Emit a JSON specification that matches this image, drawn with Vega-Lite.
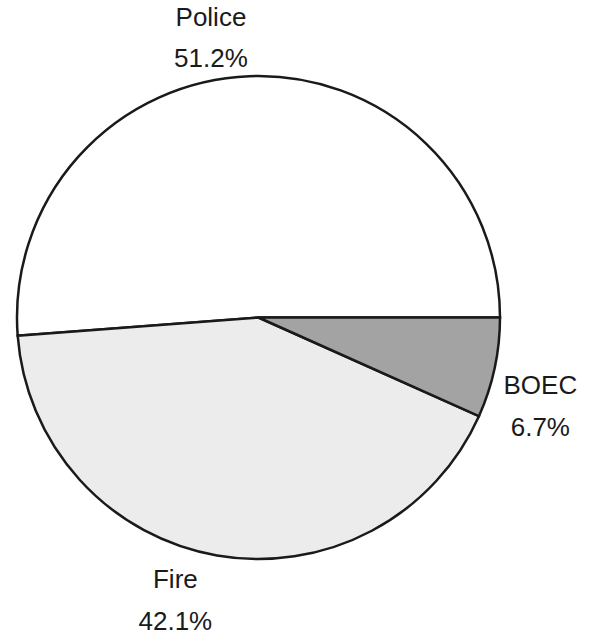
{
  "$schema": "https://vega.github.io/schema/vega-lite/v6.json",
  "width": 483,
  "height": 483,
  "autosize": {"type": "none"},
  "padding": {"left": 17, "top": 76, "right": 95, "bottom": 78},
  "background": "#ffffff",
  "view": {"stroke": null},
  "data": {
    "values": [
      {"sector": "Police", "share": 51.2},
      {"sector": "Fire", "share": 42.1},
      {"sector": "BOEC", "share": 6.7}
    ]
  },
  "transform": [
    {"calculate": "datum.sector + '\\n' + format(datum.share, '.1f') + '%'", "as": "label"}
  ],
  "encoding": {
    "theta": {"field": "share", "type": "quantitative", "stack": true, "scale": {"range": [1.5708, 7.854]}},
    "order": {"field": "sector", "sort": "ascending"}
  },
  "layer": [
    {
      "mark": {"type": "arc", "stroke": "#1a1a1a", "strokeWidth": 2.5},
      "encoding": {
        "color": {
          "field": "sector",
          "type": "nominal",
          "scale": {"domain": ["BOEC", "Fire", "Police"], "range": ["#a3a3a3", "#ececec", "#ffffff"]},
          "legend": null
        }
      }
    },
    {
      "mark": {"type": "text", "radius": 280, "dx": -37, "dy": -20, "font": "Liberation Sans", "fontSize": 26, "lineHeight": 41, "lineBreak": "\n", "align": "center", "baseline": "middle", "fill": "#1a1a1a"},
      "encoding": {"text": {"condition": {"test": "datum.sector === 'Police'", "field": "label"}, "value": ""}}
    },
    {
      "mark": {"type": "text", "radius": 280, "dx": -35, "dy": -13, "font": "Liberation Sans", "fontSize": 26, "lineHeight": 42, "lineBreak": "\n", "align": "center", "baseline": "middle", "fill": "#1a1a1a"},
      "encoding": {"text": {"condition": {"test": "datum.sector === 'Fire'", "field": "label"}, "value": ""}}
    },
    {
      "mark": {"type": "text", "radius": 280, "dx": 8, "dy": 10, "font": "Liberation Sans", "fontSize": 26, "lineHeight": 42, "lineBreak": "\n", "align": "center", "baseline": "middle", "fill": "#1a1a1a"},
      "encoding": {"text": {"condition": {"test": "datum.sector === 'BOEC'", "field": "label"}, "value": ""}}
    }
  ]
}
